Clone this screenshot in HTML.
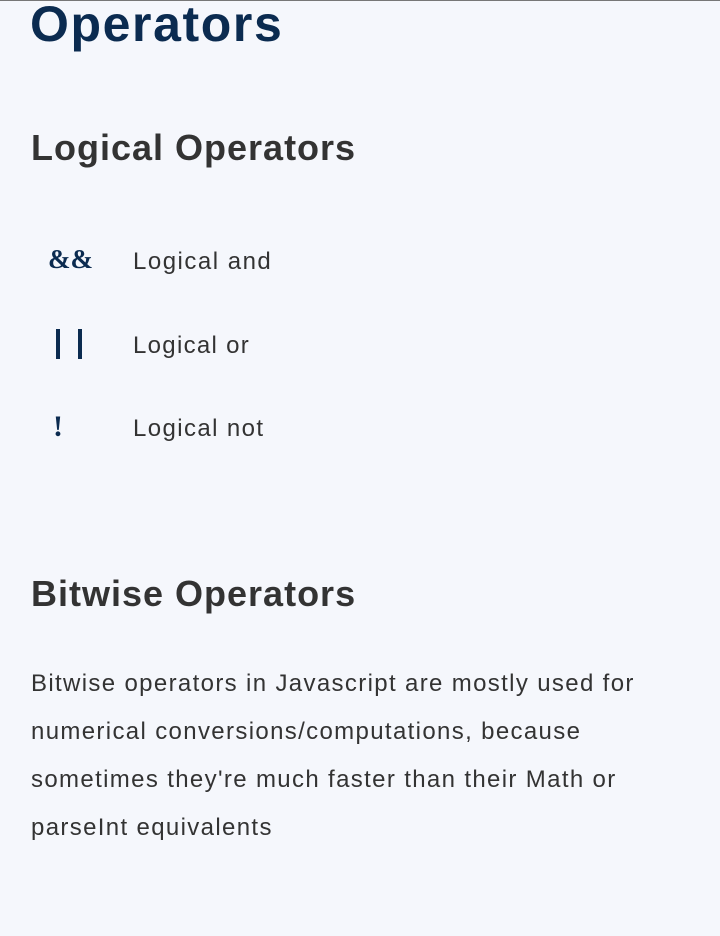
<!DOCTYPE html>
<html><head><meta charset="utf-8"><style>
html,body{margin:0;padding:0;}
body{width:720px;height:936px;background:#f5f7fc;position:relative;overflow:hidden;font-family:"Liberation Sans",sans-serif;}
.t{position:absolute;white-space:nowrap;}
</style></head><body>
<div style="position:absolute;left:0;top:0;width:720px;height:1px;background:#777"></div>
<div class="t" style="left:30px;top:-5px;font-size:50px;font-weight:bold;color:#0b2b50;letter-spacing:1.6px">Operators</div>
<div class="t" style="left:31px;top:127px;font-size:36px;font-weight:bold;color:#333;letter-spacing:1px">Logical Operators</div>
<div class="t" style="left:48px;top:244px;font-size:27px;font-weight:bold;color:#0b2b50;font-family:'Liberation Serif',serif">&amp;&amp;</div>
<div class="t" style="left:133px;top:248px;font-size:24px;color:#333;letter-spacing:1.5px">Logical and</div>
<div style="position:absolute;left:56px;top:329px;width:4px;height:30px;background:#0b2b50"></div>
<div style="position:absolute;left:78px;top:329px;width:4px;height:30px;background:#0b2b50"></div>
<div class="t" style="left:133px;top:332px;font-size:24px;color:#333;letter-spacing:1.3px">Logical or</div>
<div class="t" style="left:53px;top:410px;font-size:30px;font-weight:bold;color:#0b2b50;font-family:'Liberation Serif',serif">!</div>
<div class="t" style="left:133px;top:415px;font-size:24px;color:#333;letter-spacing:1.4px">Logical not</div>
<div class="t" style="left:31px;top:573px;font-size:36px;font-weight:bold;color:#333;letter-spacing:1px">Bitwise Operators</div>
<div class="t" style="left:31px;top:660px;font-size:24px;line-height:48px;color:#333;letter-spacing:1.35px">Bitwise operators in Javascript are mostly used for<br>numerical conversions/computations, because<br>sometimes they're much faster than their Math or<br>parseInt equivalents</div>
</body></html>
